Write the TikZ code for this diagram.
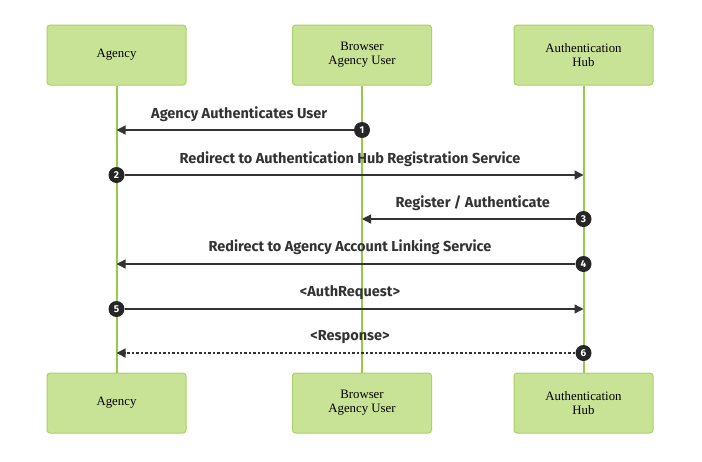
\documentclass[tikz,border=0pt]{standalone}
\usepackage{fontspec}
\setmainfont{Liberation Serif}
\newfontfamily\msgfont{Fira Sans}
\usetikzlibrary{arrows.meta,calc}
\definecolor{boxfill}{HTML}{C8E296}
\definecolor{boxline}{HTML}{A6D36A}
\definecolor{lifeline}{HTML}{96CB48}
\definecolor{msgline}{HTML}{333333}

\begin{document}
\begin{tikzpicture}[%
      x=1pt, y=-1pt,
      actor/.style={draw=boxline, fill=boxfill, rounded corners=3pt, line width=1pt,
        minimum width=139pt, minimum height=60pt, align=center,
        font=\fontsize{12.8}{14}\selectfont},
      life/.style={draw=lifeline, line width=2pt},
      msg/.style={draw=msgline, line width=1.3pt, -{Triangle[length=9pt,width=9pt]}},
      reply/.style={msg, dash pattern=on 2.5pt off 2pt},
      num/.style={circle, fill=black!85, text=white, inner sep=0pt, minimum size=16pt,
        font=\msgfont\bfseries\fontsize{10}{10}\selectfont},
      lbl/.style={text=msgline, font=\msgfont\bfseries\fontsize{14.5}{15}\selectfont},
      ]
      \useasboundingbox (0,0) rectangle (702,461);

      \node[actor] (agencyTop) at (116.5,55) {Agency};
      \node[actor] (browserTop) at (362,55) {Browser\\Agency User};
      \node[actor] (hubTop) at (583.5,55) {Authentication\\Hub};
      \node[actor] (agencyBot) at (116.5,403) {Agency};
      \node[actor] (browserBot) at (362,403) {Browser\\Agency User};
      \node[actor] (hubBot) at (583.5,403) {Authentication\\Hub};

      \draw[life] (agencyTop) -- (agencyBot);
      \draw[life] (browserTop) -- (browserBot);
      \draw[life] (hubTop) -- (hubBot);

      \node[num] (n1) at (362,130) {1};
      \node[num] (n2) at (116.5,175) {2};
      \node[num] (n3) at (583.5,219) {3};
      \node[num] (n4) at (583.5,264) {4};
      \node[num] (n5) at (116.5,309) {5};
      \node[num] (n6) at (583.5,353) {6};

      \draw[msg] (n1) -- (agencyTop |- n1);
      \draw[msg] (n2) -- (hubTop |- n2);
      \draw[msg] (n3) -- (browserTop |- n3);
      \draw[msg] (n4) -- (agencyTop |- n4);
      \draw[msg] (n5) -- (hubTop |- n5);
      \draw[reply] (n6) -- (agencyTop |- n6);

      \node[lbl] (l1) at ($(n1)!.5!(agencyTop |- n1) + (0,-16)$) {Agency Authenticates User};
      \node[lbl] (l2) at ($(n2)!.5!(hubTop |- n2) + (0,-16)$) {Redirect to Authentication Hub Registration Service};
      \node[lbl] (l3) at ($(n3)!.5!(browserTop |- n3) + (0,-16)$) {Register / Authenticate};
      \node[lbl] (l4) at ($(n4)!.5!(agencyTop |- n4) + (0,-17)$) {Redirect to Agency Account Linking Service};
      \node[lbl] (l5) at ($(n5)!.5!(hubTop |- n5) + (0,-16)$) {<AuthRequest>};
      \node[lbl] (l6) at ($(n6)!.5!(agencyTop |- n6) + (0,-16)$) {<Response>};
\end{tikzpicture}
\end{document}
